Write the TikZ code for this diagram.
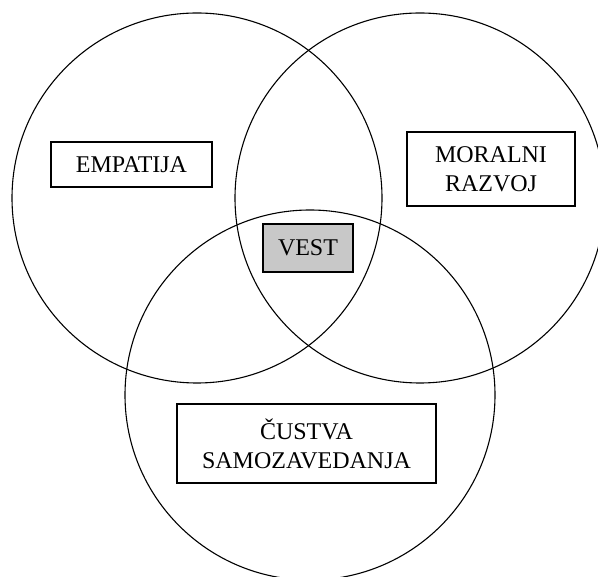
\documentclass[tikz,border=0pt]{standalone}
\usepackage{fontspec}
\setmainfont{Liberation Serif}
\definecolor{vestgray}{RGB}{200,200,200}
\begin{document}
\begin{tikzpicture}[x=1pt,y=-1pt,
  ring/.style={draw=black,line width=1.1pt},
  labelbox/.style={draw=black,line width=1.2pt,align=center,inner sep=0pt,
    font=\fontsize{24}{28.8}\selectfont},
  vestbox/.style={labelbox,fill=vestgray}]
\useasboundingbox (0,0) rectangle (598,577);
\begin{scope}
\clip (0,0) rectangle (598,577);
\draw[ring] (197,198) circle[radius=185];
\draw[ring] (420,198) circle[radius=185];
\draw[ring] (310,395) circle[radius=185];
\end{scope}
\node[labelbox,minimum width=161pt,minimum height=45pt] (emp) at (131.5,164.5) {EMPATIJA};
\node[labelbox,minimum width=168pt,minimum height=74pt] (mor) at (491,169) {MORALNI\\RAZVOJ};
\node[vestbox,minimum width=90pt,minimum height=48pt] (vest) at (308,248) {VEST};
\node[labelbox,minimum width=259pt,minimum height=79pt] (cus) at (306.5,443.5) {ČUSTVA\\SAMOZAVEDANJA};
\end{tikzpicture}
\end{document}
